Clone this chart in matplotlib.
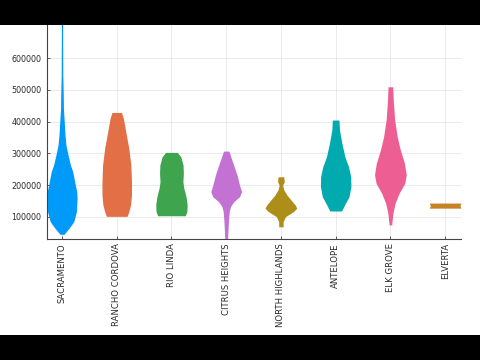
#Violin plot of house prices by city
#Each violin is drawn from its outline: price levels and the relative width at each level

import numpy as np
import matplotlib.pyplot as plt
from matplotlib.patches import Rectangle

cities=['SACRAMENTO','RANCHO CORDOVA','RIO LINDA','CITRUS HEIGHTS',
        'NORTH HIGHLANDS','ANTELOPE','ELK GROVE','ELVERTA']
colors=['#009AFA','#E36F47','#3EA44E','#C371D2','#AC8E18','#00AAAE','#ED5E93','#C68225']

#price levels (ascending) and relative width of the violin at that level
sac_price=[44500,63400,84200,116000,158000,179000,210000,242000,263000,295000,326000,358000,400000,442000,484000,547000,694000,885000]
sac_width=[0.13,0.44,0.74,0.91,0.95,0.93,0.80,0.68,0.53,0.38,0.25,0.19,0.14,0.09,0.08,0.05,0.04,0.04]

ranch_price=[101000,116000,137000,168000,210000,263000,316000,368000,410000,429000]
ranch_width=[0.65,0.76,0.87,0.93,0.93,0.89,0.76,0.57,0.42,0.30]

rio_price=[103000,116000,137000,163000,190000,210000,237000,263000,289000,303000]
rio_width=[0.87,0.97,0.99,0.92,0.78,0.72,0.75,0.73,0.59,0.37]

citrus_price=[30000,53000,84000,116000,132000,147000,163000,179000,200000,232000,263000,295000,307000]
citrus_width=[0.09,0.11,0.14,0.19,0.27,0.47,0.84,0.97,0.84,0.68,0.47,0.25,0.17]

north_price=[68000,84000,100000,116000,127000,137000,153000,168000,185000,200000,210000,226000]
north_width=[0.14,0.14,0.28,0.79,1.00,0.90,0.63,0.38,0.18,0.11,0.21,0.18]

ante_price=[118000,137000,163000,195000,226000,258000,289000,332000,374000,405000]
ante_width=[0.37,0.56,0.84,0.96,0.95,0.81,0.58,0.39,0.24,0.21]

elk_price=[74000,111000,143000,174000,205000,232000,268000,310000,352000,405000,468000,510000]
elk_width=[0.08,0.16,0.30,0.55,0.90,1.00,0.89,0.63,0.43,0.27,0.18,0.15]

elv_price=[127000,135000,143000]
elv_width=[1.00,0.93,1.00]

prices=[sac_price,ranch_price,rio_price,citrus_price,north_price,ante_price,elk_price,elv_price]
widths=[sac_width,ranch_width,rio_width,citrus_width,north_width,ante_width,elk_width,elv_width]

yticks=[100000,200000,300000,400000,500000,600000]

half=0.29   #half width of the widest violin, in category units

fig=plt.figure(figsize=(4.8,3.6),dpi=100,facecolor='black')
#white frame between the black bars
fig.patches.append(Rectangle((0,25/360),1,310/360,transform=fig.transFigure,
                             facecolor='white',edgecolor='none',zorder=0))

ax=fig.add_axes([47/480,(360-239)/360,(461-47)/480,(239-25)/360])
ax.set_zorder(2)
ax.set_facecolor('white')

for i,(p,w) in enumerate(zip(prices,widths)):
    x=i+1
    p=np.array(p)
    w=np.array(w)*half
    ax.fill_betweenx(p,x-w,x+w,color=colors[i],linewidth=0,zorder=2)

ax.set_xlim(0.726,8.29)
ax.set_ylim(29600,705000)
ax.set_xticks(range(1,len(cities)+1))
ax.set_xticklabels(cities,rotation=90,fontsize=6.1,color='#2a2a2a')
ax.set_yticks(yticks)
ax.set_yticklabels([str(v) for v in yticks],fontsize=5.8,color='#2a2a2a')

ax.set_axisbelow(True)
ax.grid(True,color='#e6e6e6',linewidth=0.6)
ax.tick_params(direction='in',length=2.5,width=0.6,color='#444444')
ax.tick_params(axis='y',pad=4)
ax.tick_params(axis='x',pad=3)

ax.spines['top'].set_visible(False)
ax.spines['right'].set_visible(False)
ax.spines['left'].set_color('#444444')
ax.spines['bottom'].set_color('#444444')
ax.spines['left'].set_linewidth(0.8)
ax.spines['bottom'].set_linewidth(0.8)

plt.savefig('out.png',dpi=100,facecolor='black')
